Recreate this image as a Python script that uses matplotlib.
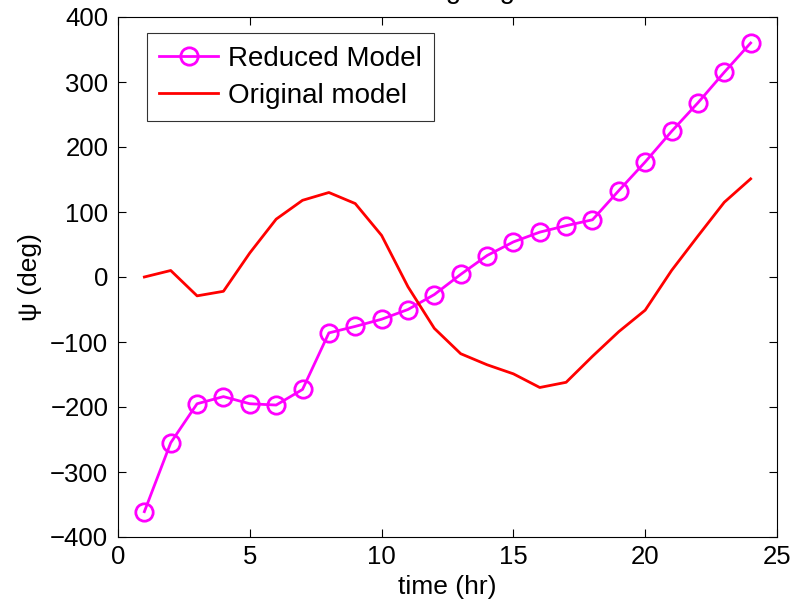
import matplotlib
matplotlib.use("Agg")
import matplotlib.pyplot as plt

plt.rcParams["font.family"] = ["Liberation Sans", "DejaVu Sans"]

hours = list(range(1, 25))
reduced_model = [-361, -255, -195, -184, -195, -197, -173, -86, -76, -65, -50, -27,
                 4, 33, 54, 69, 79, 88, 133, 177, 224, 268, 315, 360]
original_model = [0, 10, -29, -22, 37, 89, 118, 130, 113, 64, -15, -79,
                  -118, -135, -149, -170, -162, -122, -84, -51, 10, 63, 115, 151]

x_ticks = [0, 5, 10, 15, 20, 25]
y_ticks = [-400, -300, -200, -100, 0, 100, 200, 300, 400]

FS = 18.5

fig = plt.figure(figsize=(7.9, 6.09), dpi=100)
ax = fig.add_axes([118 / 790, 1 - 537 / 609, (777 - 118) / 790, (537 - 17) / 609])

ax.plot(hours, reduced_model, color="#ff00ff", linewidth=2, marker="o",
        markersize=12.5, markerfacecolor="none", markeredgewidth=2,
        label="Reduced Model")
ax.plot(hours, original_model, color="#ff0000", linewidth=2,
        label="Original model")

ax.set_xlim(0, 25)
ax.set_ylim(-400, 400)
ax.set_xticks(x_ticks)
ax.set_yticks(y_ticks)
ax.tick_params(direction="in", length=6, width=0.8, top=True, right=True,
               labelsize=FS, colors="black")
ax.tick_params(axis="y", pad=7)
ax.tick_params(axis="x", pad=6)
ax.set_yticklabels([str(v).replace("-", "\u2212") for v in y_ticks])
for spine in ax.spines.values():
    spine.set_linewidth(0.8)

ax.set_xlabel("time (hr)", fontsize=19, labelpad=4)
ax.set_ylabel("\u03c8 (deg)", fontsize=19, labelpad=6)

leg = ax.legend(loc="upper left", bbox_to_anchor=(0.044, 0.969), fontsize=20,
                frameon=True, fancybox=False, edgecolor="black",
                handlelength=2.1, borderpad=0.45, labelspacing=0.4,
                handletextpad=0.35, borderaxespad=0)
leg.get_frame().set_linewidth(0.8)

# title sits mostly above the top edge, only descenders show
fig.text((118 + 777) / 2 / 790, 1 + 2 / 609, "Heading angle", fontsize=20,
         ha="center", va="baseline")

fig.savefig("out.png", dpi=100)
